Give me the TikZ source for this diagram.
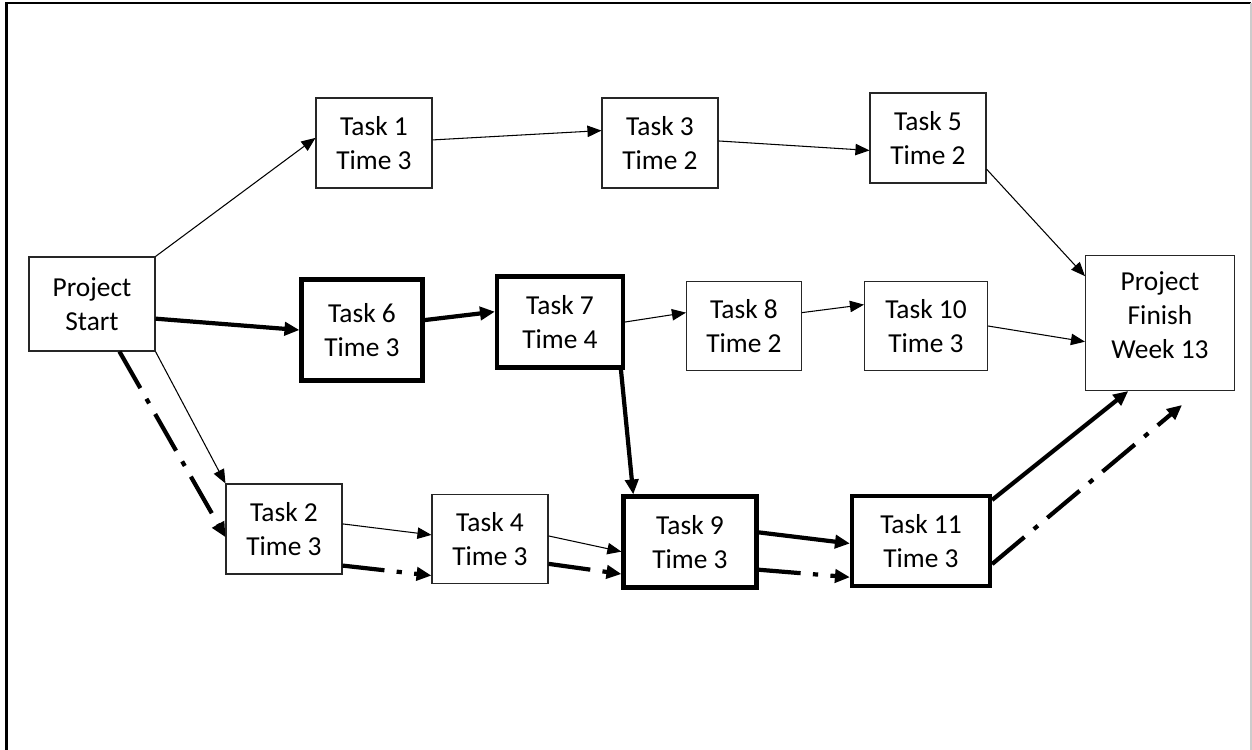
\documentclass[tikz,border=0pt]{standalone}
\usepackage{fontspec}
\setmainfont{Carlito}
\usetikzlibrary{arrows.meta}

\begin{document}
\begin{tikzpicture}[x=0.02cm,y=-0.02cm]
\tikzset{task/.style={rectangle,draw=black!85,line width=0.6pt,minimum width=2.32cm,minimum height=1.8cm,align=center,inner sep=0pt,font=\fontsize{15.6}{19.2}\selectfont},
crit/.style={task,draw=black,line width=2.4pt},
link/.style={line width=0.6pt,-{Triangle[length=8pt,width=6.5pt]}},
critlink/.style={line width=2.4pt,-{Triangle[length=8.5pt,width=7.5pt]}},
altlink/.style={critlink,dash pattern=on 24pt off 7pt on 3pt off 7pt}}
\useasboundingbox (0,0) rectangle (1252,750);
\draw[line width=1.2pt](6.5,750) |- (1251,3);
\draw[black!20,line width=0.6pt](1251,3) -- (1251,750);
\node[task,minimum width=2.52cm,minimum height=1.88cm](start) at (92,304){Project\\Start};
\node[task](t1) at (374,143){Task 1\\Time 3};
\node[task](t3) at (660,143){Task 3\\Time 2};
\node[task](t5) at (928,138){Task 5\\Time 2};
\node[crit,minimum width=2.42cm,minimum height=2.02cm](t6) at (362,330){Task 6\\Time 3};
\node[crit,minimum width=2.52cm,minimum height=1.82cm](t7) at (560,322){Task 7\\Time 4};
\node[task,minimum width=2.3cm,minimum height=1.78cm](t8) at (744,326){Task 8\\Time 2};
\node[task,minimum width=2.46cm,minimum height=1.78cm](t10) at (926,326){Task 10\\Time 3};
\node[task,minimum width=2.98cm,minimum height=2.7cm,text depth=9pt](finish) at (1160,323){Project\\Finish\\Week 13};
\node[task](t2) at (284,529){Task 2\\Time 3};
\node[task,minimum height=1.78cm](t4) at (490,539){Task 4\\Time 3};
\node[crit,minimum width=2.66cm,minimum height=1.82cm](t9) at (690,542){Task 9\\Time 3};
\node[crit,minimum width=2.76cm](t11) at (921,541){Task 11\\Time 3};
\coordinate (altend) at (1182,405);
\draw[link](start.north east) -- (t1.175);
\draw[link](t1.3) -- (t3.168);
\draw[link](t3.2) -- (t5.192);
\draw[link](t5.332) -- (finish.148);
\draw[critlink](start.347) -- (t6.west);
\draw[critlink](t6.9) -- (t7.171);
\draw[link](t7.east) -- (t8.167);
\draw[link](t8.13) -- (t10.161);
\draw[link](t10.east) -- (finish.194);
\draw[critlink](t7.322) -- (t9.140);
\draw[link](start.south east) -- (t2.north west);
\draw[altlink](start.300) -- (t2.188);
\draw[link](t2.5) -- (t4.176);
\draw[altlink](t2.328) -- (t4.212);
\draw[link](t4.3) -- (t9.188);
\draw[altlink](t4.337) -- (t9.205);
\draw[critlink](t9.8) -- (t11.182);
\draw[altlink](t9.338) -- (t11.207);
\draw[critlink](t11.30) -- (finish.245);
\draw[altlink](t11.342) -- (altend);
\end{tikzpicture}
\end{document}
